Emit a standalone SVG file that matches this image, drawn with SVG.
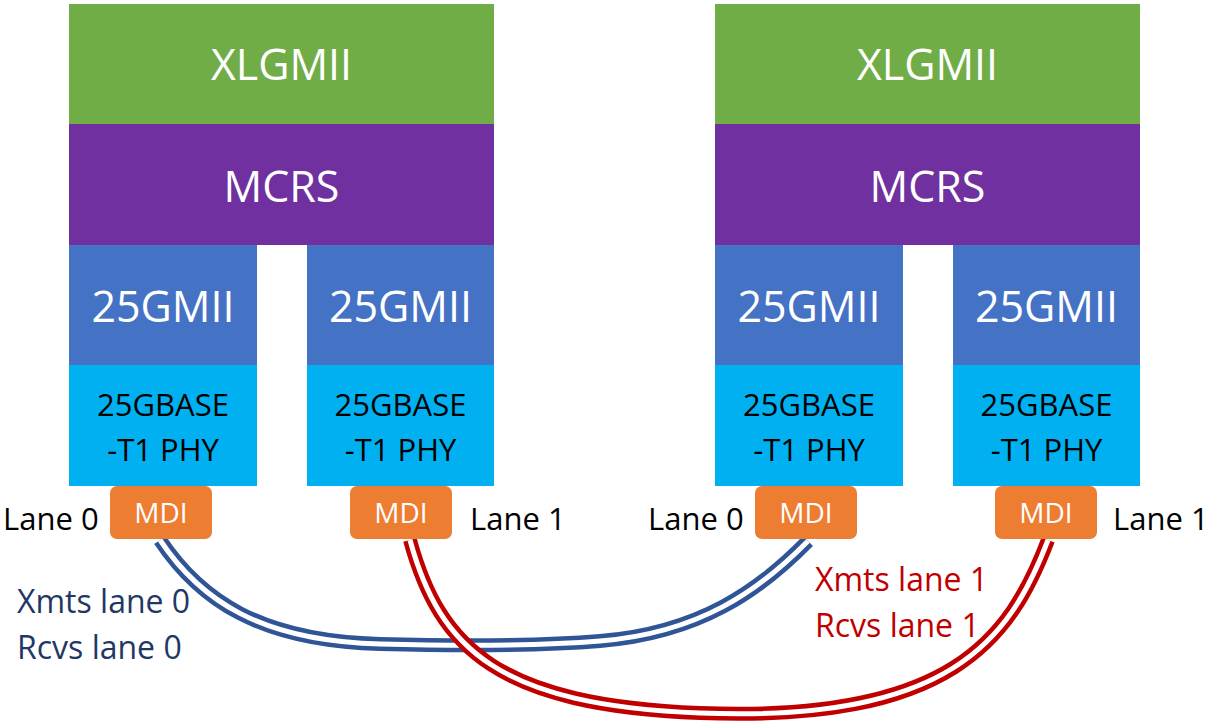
<svg xmlns="http://www.w3.org/2000/svg" width="1209" height="721" viewBox="0 0 1209 721">
<style>
text{font-family:"Open Sans","Liberation Sans",sans-serif;}
.big{font-size:43px;fill:#fff;text-anchor:middle;}
.phy{font-size:31px;fill:#000;text-anchor:middle;}
.mdi{font-size:28px;fill:#fff;text-anchor:middle;}
.lane{font-size:31px;fill:#000;}
.bl{font-size:32px;fill:#1F3864;}
.rd{font-size:32px;fill:#C00000;}
.g{fill:#70AD47;} .p{fill:#7030A0;} .b{fill:#4472C4;} .c{fill:#00B0F0;} .o{fill:#ED7D31;}
.cab{fill:none;stroke-linecap:butt;}
</style>
<rect width="1209" height="721" fill="#fff"/>
<g id="stack-left">
  <g id="xlgmii-l"><rect class="g" x="69" y="4" width="425" height="120"/><text class="big" x="281.5" y="80">XLGMII</text></g>
  <g id="mcrs-l"><rect class="p" x="69" y="124" width="425" height="121"/><text class="big" x="281.5" y="202">MCRS</text></g>
  <g id="gmii-l0"><rect class="b" x="69" y="245" width="188" height="120"/><text class="big" x="163" y="322">25GMII</text></g>
  <g id="gmii-l1"><rect class="b" x="307" y="245" width="187" height="120"/><text class="big" x="400.5" y="322">25GMII</text></g>
  <g id="phy-l0"><rect class="c" x="69" y="365" width="188" height="121"/><text class="phy" x="163" y="416">25GBASE</text><text class="phy" x="163" y="461">-T1 PHY</text></g>
  <g id="phy-l1"><rect class="c" x="307" y="365" width="187" height="121"/><text class="phy" x="400.5" y="416">25GBASE</text><text class="phy" x="400.5" y="461">-T1 PHY</text></g>
</g>
<g id="stack-right">
  <g id="xlgmii-r"><rect class="g" x="715" y="4" width="425" height="120"/><text class="big" x="927.5" y="80">XLGMII</text></g>
  <g id="mcrs-r"><rect class="p" x="715" y="124" width="425" height="121"/><text class="big" x="927.5" y="202">MCRS</text></g>
  <g id="gmii-r0"><rect class="b" x="715" y="245" width="188" height="120"/><text class="big" x="809" y="322">25GMII</text></g>
  <g id="gmii-r1"><rect class="b" x="953" y="245" width="187" height="120"/><text class="big" x="1046.5" y="322">25GMII</text></g>
  <g id="phy-r0"><rect class="c" x="715" y="365" width="188" height="121"/><text class="phy" x="809" y="416">25GBASE</text><text class="phy" x="809" y="461">-T1 PHY</text></g>
  <g id="phy-r1"><rect class="c" x="953" y="365" width="187" height="121"/><text class="phy" x="1046.5" y="416">25GBASE</text><text class="phy" x="1046.5" y="461">-T1 PHY</text></g>
</g>
<g id="connectors">
  <path class="cab" d="M160,540 C200,600 260,641 380,644 C460,646 540,646 600,641 C700,633 760,590 808,541" stroke="#2F5597" stroke-width="14"/>
  <path class="cab" d="M160,540 C200,600 260,641 380,644 C460,646 540,646 600,641 C700,633 760,590 808,541" stroke="#fff" stroke-width="5"/>
  <path class="cab" d="M410,540 C440,650 500,705 700,713 C950,723 1010,640 1048,540" stroke="#C00000" stroke-width="14"/>
  <path class="cab" d="M410,540 C440,650 500,705 700,713 C950,723 1010,640 1048,540" stroke="#fff" stroke-width="5"/>
</g>
<g id="mdi-l0"><rect class="o" x="110" y="486" width="102" height="53" rx="7"/><text class="mdi" x="161" y="523">MDI</text></g>
<g id="mdi-l1"><rect class="o" x="350" y="486" width="102" height="53" rx="7"/><text class="mdi" x="401" y="523">MDI</text></g>
<g id="mdi-r0"><rect class="o" x="755" y="486" width="102" height="53" rx="7"/><text class="mdi" x="806" y="523">MDI</text></g>
<g id="mdi-r1"><rect class="o" x="995" y="486" width="102" height="53" rx="7"/><text class="mdi" x="1046" y="523">MDI</text></g>
<g id="labels">
  <text class="lane" x="3" y="530">Lane 0</text>
  <text class="lane" x="470" y="530">Lane 1</text>
  <text class="lane" x="648" y="530">Lane 0</text>
  <text class="lane" x="1113" y="530">Lane 1</text>
  <text class="bl" x="17" y="613">Xmts lane 0</text>
  <text class="bl" x="17" y="659">Rcvs lane 0</text>
  <text class="rd" x="815" y="591">Xmts lane 1</text>
  <text class="rd" x="815" y="637">Rcvs lane 1</text>
</g>
</svg>
